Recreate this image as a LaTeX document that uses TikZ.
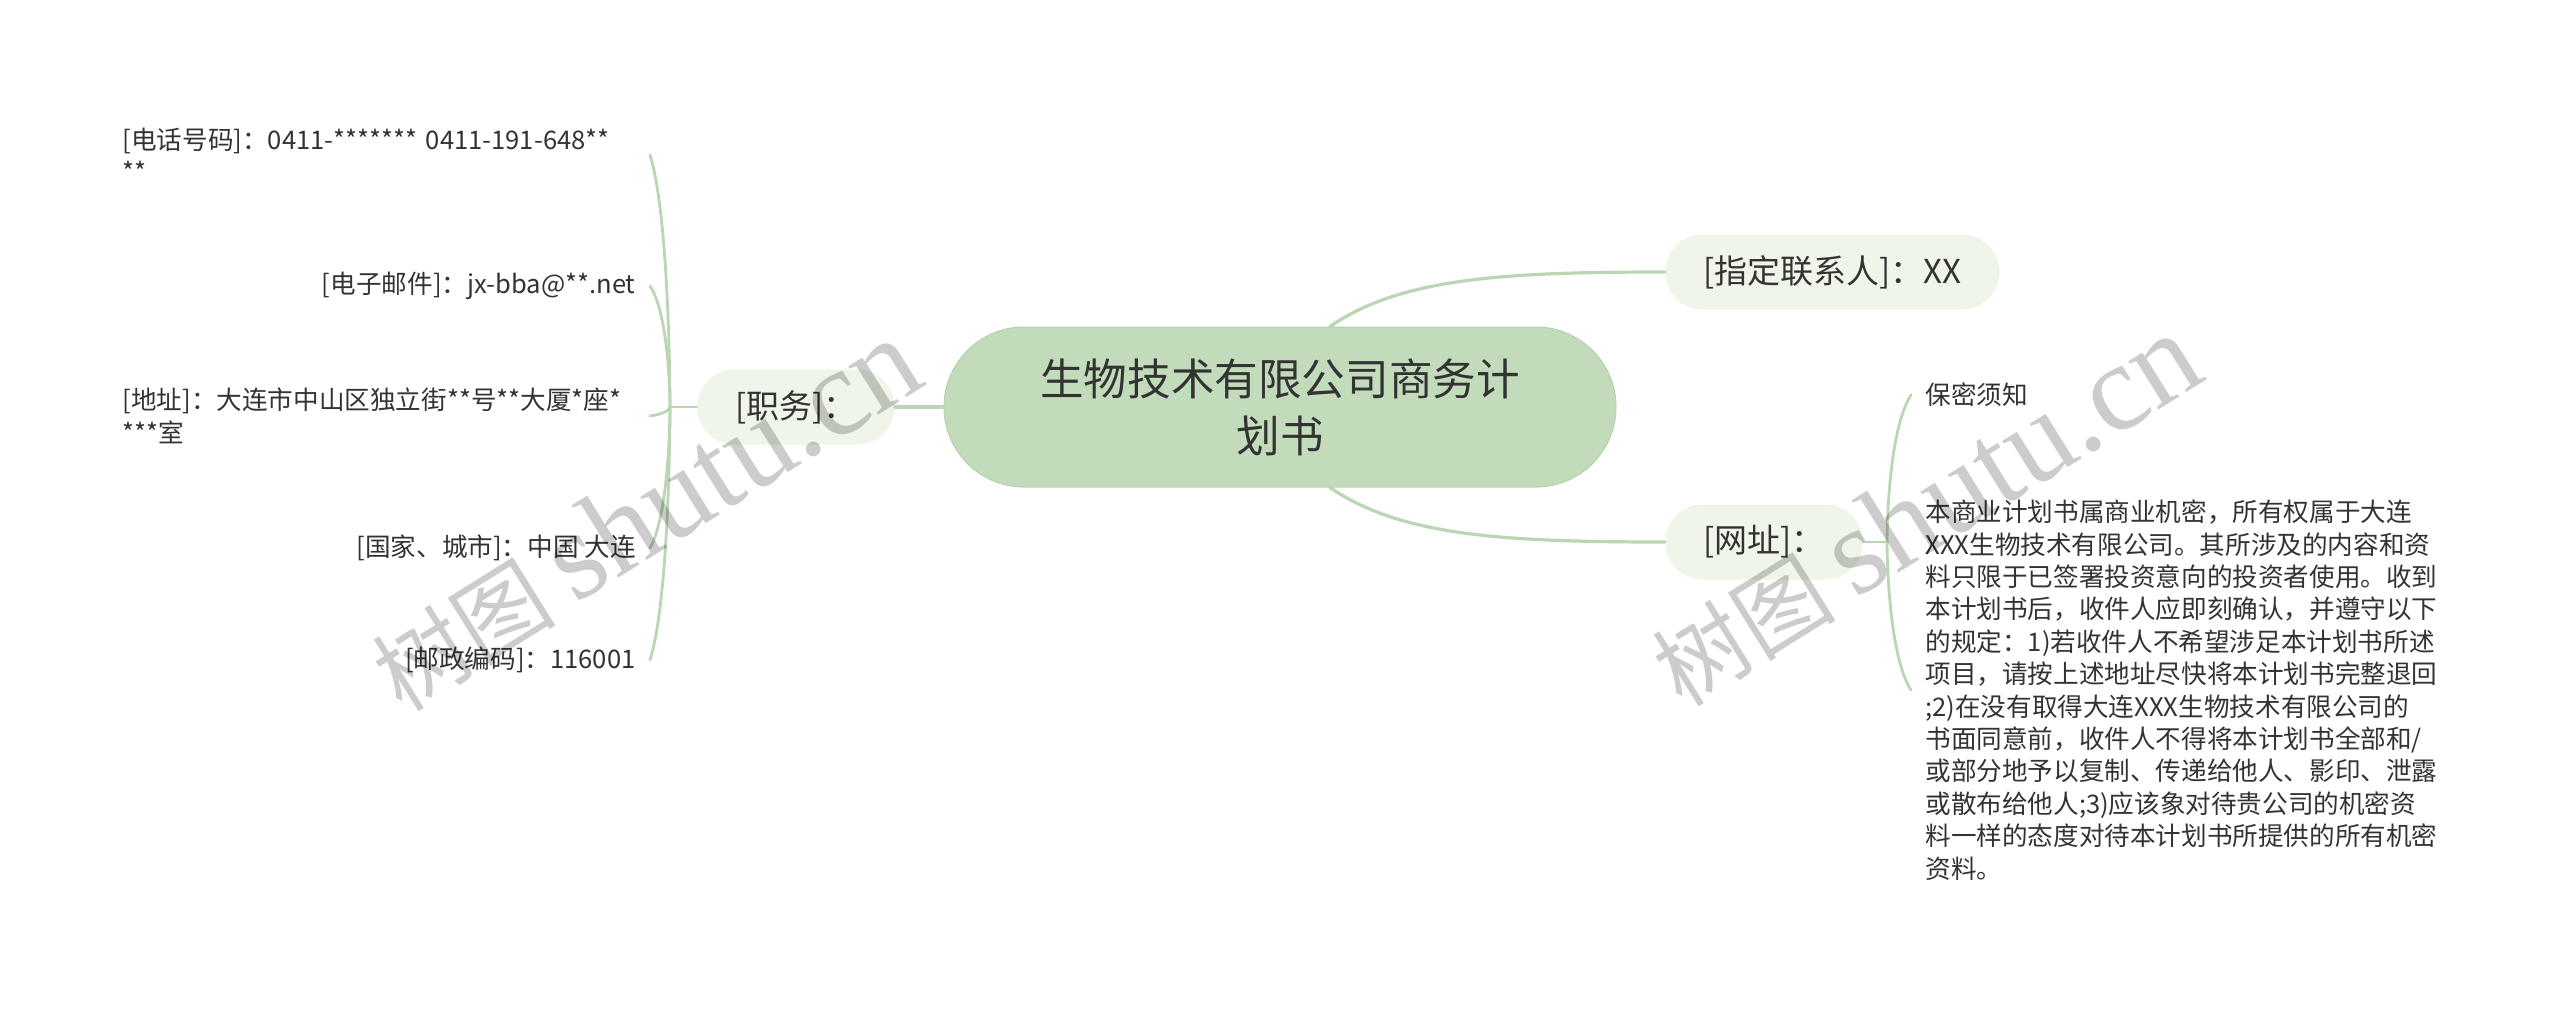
\documentclass[tikz,border=0pt]{standalone}
\usepackage{fontspec}
\setmainfont{Noto Sans CJK SC}
\newfontfamily\wmlatin{Liberation Serif}
\usetikzlibrary{calc}
\definecolor{cfill}{HTML}{C1DBBB}
\definecolor{cborder}{HTML}{B5D2AE}
\definecolor{bfill}{HTML}{EFF5E9}
\definecolor{lnk}{HTML}{BAD6B3}
\definecolor{txt}{HTML}{333333}
\begin{document}
\begin{tikzpicture}[x=0.5pt,y=-0.5pt,
  central/.style={draw=cborder, line width=0.5pt, fill=cfill, rounded corners=40pt,
    minimum width=336pt, minimum height=80pt, align=center, text=txt,
    font=\fontsize{21.8}{28.5}\selectfont, inner sep=0pt},
  branch/.style={fill=bfill, rounded corners=18.75pt, minimum height=37.5pt,
    inner xsep=19pt, inner ysep=0pt, text=txt, font=\fontsize{16.5}{20}\selectfont},
  leaf/.style={inner xsep=7pt, inner ysep=2pt, text=txt, font=\fontsize{12.8}{16.2}\selectfont},
  conn/.style={draw=lnk, line width=1.6pt, line cap=round},
  sub/.style={draw=lnk, line width=1.4pt, line cap=round},
  wm/.style={rotate=32, text=black, opacity=0.2}]
\useasboundingbox (0,0) rectangle (2560,1012);
\fill[white] (0,0) rectangle (2560,1012);

% main nodes
\node[central] (c) at (1280,407) {生物技术有限公司商务计\\划书};
\node[branch, anchor=east] (zw) at (895,407) {[职务]：};
\node[branch, anchor=west] (lx) at (1665,272) {[指定联系人]：XX};
\node[branch, anchor=west] (wz) at (1665,542) {[网址]：};

% left leaves
\node[leaf, anchor=east, text width=256.5pt, align=left] (tel) at (650,155)
  {[电话号码]：0411-******* 0411-191-648**\\{}**};
\node[leaf, anchor=east] (em) at (650,286) {[电子邮件]：jx-bba@**.net};
\node[leaf, anchor=east, text width=256.5pt, align=left] (ad) at (650,416)
  {[地址]：大连市中山区独立街**号**大厦*座*\\{}***室};
\node[leaf, anchor=east] (gj) at (650,548) {[国家、城市]：中国 大连};
\node[leaf, anchor=east] (yb) at (650,660) {[邮政编码]：116001};

% right leaves
\node[leaf, anchor=west] (bm) at (1911,395) {保密须知};
\node[leaf, anchor=west, align=left] (pa) at (1911,690)
  {本商业计划书属商业机密，所有权属于大连\\
   XXX生物技术有限公司。其所涉及的内容和资\\
   料只限于已签署投资意向的投资者使用。收到\\
   本计划书后，收件人应即刻确认，并遵守以下\\
   的规定：1)若收件人不希望涉足本计划书所述\\
   项目，请按上述地址尽快将本计划书完整退回\\
   ;2)在没有取得大连XXX生物技术有限公司的\\
   书面同意前，收件人不得将本计划书全部和/\\
   或部分地予以复制、传递给他人、影印、泄露\\
   或散布给他人;3)应该象对待贵公司的机密资\\
   料一样的态度对待本计划书所提供的所有机密\\
   资料。};

% main connectors
\draw[conn] (c.west) -- (zw.east);
\draw[conn] ([xshift=25pt]c.north) .. controls +(70,-48) and +(-165,0) .. (lx.west);
\draw[conn] ([xshift=25pt]c.south) .. controls +(70,48) and +(-165,0) .. (wz.west);

% left bracket
\coordinate (ls) at (670,407);
\draw[sub] (zw.west) -- (ls);
\draw[sub] (ls) .. controls (ls) and +(20,63) .. (tel.east);
\draw[sub] (ls) .. controls (ls) and +(20,30) .. (em.east);
\draw[sub] (ls) .. controls (ls) and +(20,-3) .. (ad.east);
\draw[sub] (ls) .. controls (ls) and +(20,-35) .. (gj.east);
\draw[sub] (ls) .. controls (ls) and +(20,-63) .. (yb.east);

% right bracket
\coordinate (rs) at (1887,542);
\draw[sub] (wz.east) -- (rs);
\draw[sub] (rs) .. controls (rs) and +(-24,37) .. (bm.west);
\draw[sub] (rs) .. controls (rs) and +(-24,-37) .. (pa.west);

% watermarks
\node[wm] (wm1) at (645,515) {\fontsize{46}{50}\selectfont 树图 {\wmlatin\fontsize{62}{66}\selectfont shutu.cn}};
\node[wm] (wm2) at (1925,510) {\fontsize{46}{50}\selectfont 树图 {\wmlatin\fontsize{62}{66}\selectfont shutu.cn}};
\end{tikzpicture}
\end{document}
